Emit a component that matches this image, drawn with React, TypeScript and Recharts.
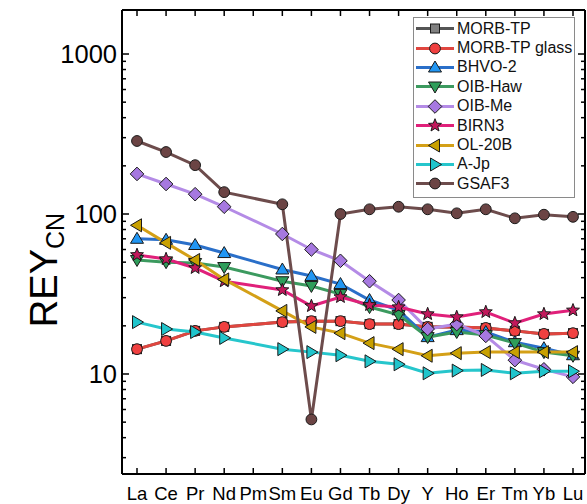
import React from 'react';
import { LineChart, Line, XAxis, YAxis, Legend } from 'recharts';

const elements = ['La', 'Ce', 'Pr', 'Nd', 'Pm', 'Sm', 'Eu', 'Gd', 'Tb', 'Dy', 'Y', 'Ho', 'Er', 'Tm', 'Yb', 'Lu'];

const morbTP = [14.3, 16.1, 18.6, 19.7, null, 21.1, 21.4, 21.4, 20.5, 20.5, 19.7, 19.7, 19.4, 18.6, 17.8, 18.0];
const morbTPGlass = [14.3, 16.1, 18.6, 19.7, null, 21.1, 21.4, 21.4, 20.5, 20.5, 19.7, 19.7, 19.4, 18.6, 17.8, 18.0];
const bhvo2 = [70, 69, 64, 57, null, 45, 41, 36.5, 29, 25, 17, 18.8, 18.3, 15.8, 14.5, 13.1];
const oibHaw = [51.6, 50, 49.4, 46.6, null, 38, 35.5, 31.6, 26.2, 23.4, 17, 18.3, 17.5, 15.6, 13.7, 13.0];
const oibMe = [178, 154, 133, 111, null, 75, 60, 51, 38, 29, 19.1, 20.5, 17.3, 12.2, 10.7, 9.6];
const birn3 = [55.5, 52.3, 46, 38, null, 33.5, 26.6, 30.3, 27, 26.2, 23.7, 22.7, 24.4, 20.8, 23.7, 25];
const ol20b = [85, 66, 51.6, 39, null, 24.8, 19.7, 18, 15.6, 14.3, 13, 13.5, 13.7, 13.7, 13.7, 13.7];
const aJp = [21.1, 19.1, 18.3, 16.8, null, 14.3, 13.7, 13.1, 12, 11.5, 10.1, 10.5, 10.6, 10.1, 10.4, 10.4];
const gsaf3 = [286, 244, 202, 137, null, 115, 5.2, 100, 107, 111, 107, 101, 107, 94, 99, 96];

const yMajorTicks = [10, 100, 1000];
const yTicks = [3, 4, 5, 6, 7, 8, 9, 10, 20, 30, 40, 50, 60, 70, 80, 90, 100, 200, 300, 400, 500, 600, 700, 800, 900, 1000];

type Shape = 'square' | 'circle' | 'up' | 'down' | 'diamond' | 'star' | 'left' | 'right';

const series: { key: string; name: string; values: (number | null)[]; line: string; fill: string; shape: Shape }[] = [
  { key: 'morbTP', name: 'MORB-TP', values: morbTP, line: '#555555', fill: '#808080', shape: 'square' },
  { key: 'morbTPGlass', name: 'MORB-TP glass', values: morbTPGlass, line: '#e0463f', fill: '#f04040', shape: 'circle' },
  { key: 'bhvo2', name: 'BHVO-2', values: bhvo2, line: '#2a6fc9', fill: '#2196f3', shape: 'up' },
  { key: 'oibHaw', name: 'OIB-Haw', values: oibHaw, line: '#3c9a5f', fill: '#2e9e5a', shape: 'down' },
  { key: 'oibMe', name: 'OIB-Me', values: oibMe, line: '#b48be6', fill: '#a678e0', shape: 'diamond' },
  { key: 'birn3', name: 'BIRN3', values: birn3, line: '#e0207a', fill: '#c2185b', shape: 'star' },
  { key: 'ol20b', name: 'OL-20B', values: ol20b, line: '#d4a017', fill: '#c8a000', shape: 'left' },
  { key: 'aJp', name: 'A-Jp', values: aJp, line: '#26c6cc', fill: '#20c5cc', shape: 'right' },
  { key: 'gsaf3', name: 'GSAF3', values: gsaf3, line: '#6d4c4c', fill: '#6b4444', shape: 'circle' },
];

const data = elements.map((el, i) => {
  const row: Record<string, any> = { el };
  series.forEach((s) => {
    row[s.key] = s.values[i];
  });
  return row;
});

const FONT = '"Liberation Sans", Arial, sans-serif';
const STROKE = '#1a1a1a';

function marker(shape: Shape, cx: number, cy: number, fill: string, k?: any) {
  const common = { fill, stroke: STROKE, strokeWidth: 1 };
  switch (shape) {
    case 'square':
      return <rect key={k} x={cx - 4.5} y={cy - 4.5} width={9} height={9} {...common} />;
    case 'circle':
      return <circle key={k} cx={cx} cy={cy} r={5.4} {...common} />;
    case 'up':
      return <polygon key={k} points={`${cx},${cy - 6.5} ${cx + 6.5},${cy + 4.5} ${cx - 6.5},${cy + 4.5}`} {...common} />;
    case 'down':
      return <polygon key={k} points={`${cx},${cy + 6.5} ${cx + 6.5},${cy - 4.5} ${cx - 6.5},${cy - 4.5}`} {...common} />;
    case 'left':
      return <polygon key={k} points={`${cx - 6.5},${cy} ${cx + 4.5},${cy - 6.5} ${cx + 4.5},${cy + 6.5}`} {...common} />;
    case 'right':
      return <polygon key={k} points={`${cx + 6.5},${cy} ${cx - 4.5},${cy - 6.5} ${cx - 4.5},${cy + 6.5}`} {...common} />;
    case 'diamond':
      return <polygon key={k} points={`${cx},${cy - 6.8} ${cx + 6.8},${cy} ${cx},${cy + 6.8} ${cx - 6.8},${cy}`} {...common} />;
    case 'star': {
      const pts: string[] = [];
      for (let i = 0; i < 10; i++) {
        const r = i % 2 === 0 ? 6.8 : 2.9;
        const a = -Math.PI / 2 + (i * Math.PI) / 5;
        pts.push(`${cx + r * Math.cos(a)},${cy + r * Math.sin(a)}`);
      }
      return <polygon key={k} points={pts.join(' ')} {...common} />;
    }
  }
  return null;
}

const LeftTick = (props: any) => {
  const { x, y, payload } = props;
  const major = yMajorTicks.includes(payload.value);
  return (
    <g>
      <line x1={x} x2={x + (major ? 7 : 4)} y1={y} y2={y} stroke="#000" strokeWidth={1.5} />
      {major && (
        <text x={x - 5} y={y} dy="0.36em" textAnchor="end" fontSize={25.5} fontFamily={FONT} fill="#000">
          {payload.value}
        </text>
      )}
    </g>
  );
};

const RightTick = (props: any) => {
  const { x, y, payload } = props;
  const major = yMajorTicks.includes(payload.value);
  return <line x1={x} x2={x - (major ? 7 : 4)} y1={y} y2={y} stroke="#000" strokeWidth={1.5} />;
};

const BottomTick = (props: any) => {
  const { x, y, payload } = props;
  return (
    <g>
      <line x1={x} x2={x} y1={y} y2={y - 6} stroke="#000" strokeWidth={1.5} />
      <text x={x} y={y + 26} textAnchor="middle" fontSize={18.5} fontFamily={FONT} fill="#000">
        {payload.value}
      </text>
    </g>
  );
};

const TopTick = (props: any) => {
  const { x, y } = props;
  return <line x1={x} x2={x} y1={y} y2={y + 6} stroke="#000" strokeWidth={1.5} />;
};

const LegendBox = () => (
  <div
    style={{
      border: '1px solid #8a8a8a',
      background: '#fff',
      width: 162,
      paddingTop: 1,
      paddingBottom: 3,
      boxSizing: 'border-box',
      fontFamily: FONT,
    }}
  >
    {series.map((s) => (
      <div key={s.key} style={{ display: 'flex', alignItems: 'center', height: 19.4 }}>
        <svg width={42} height={19} style={{ display: 'block' }}>
          <line x1={2} x2={40} y1={9.5} y2={9.5} stroke={s.line} strokeWidth={3} />
          {marker(s.shape, 21, 9.5, s.fill)}
        </svg>
        <span style={{ fontSize: 16, marginLeft: 1, color: '#111', whiteSpace: 'nowrap' }}>{s.name}</span>
      </div>
    ))}
  </div>
);

const YLabel = () => (
  <text transform="translate(57,270) rotate(-90)" textAnchor="middle" fontFamily={FONT} fill="#000">
    <tspan fontSize={38}>REY</tspan>
    <tspan fontSize={25} dy={7}>CN</tspan>
  </text>
);

const AXIS_LINE = { stroke: '#000', strokeWidth: 2 };

export default function App() {
  return (
    <div style={{ position: 'absolute', left: 0, top: 0, width: 587, height: 504 }}>
      <LineChart width={587} height={504} data={data} margin={{ top: 0, right: 0, left: 0, bottom: 0 }}>
        <XAxis
          dataKey="el"
          padding={{ left: 15, right: 12 }}
          tick={<BottomTick />}
          tickLine={false}
          tickSize={0}
          tickMargin={0}
          height={30}
          interval={0}
          axisLine={AXIS_LINE}
        />
        <XAxis
          xAxisId="top"
          orientation="top"
          dataKey="el"
          padding={{ left: 15, right: 12 }}
          tick={<TopTick />}
          tickLine={false}
          tickSize={0}
          tickMargin={0}
          height={10}
          interval={0}
          axisLine={AXIS_LINE}
        />
        <YAxis
          scale="log"
          domain={[2.371, 1884]}
          allowDataOverflow
          ticks={yTicks}
          interval={0}
          tick={<LeftTick />}
          tickLine={false}
          tickSize={0}
          tickMargin={0}
          width={122}
          axisLine={AXIS_LINE}
          label={{ content: () => <YLabel /> }}
        />
        <YAxis
          yAxisId="right"
          orientation="right"
          scale="log"
          domain={[2.371, 1884]}
          allowDataOverflow
          ticks={yTicks}
          interval={0}
          tick={<RightTick />}
          tickLine={false}
          tickSize={0}
          tickMargin={0}
          width={2}
          axisLine={AXIS_LINE}
        />
        <Legend
          layout="horizontal"
          verticalAlign="middle"
          align="center"
          content={() => <LegendBox />}
          wrapperStyle={{ position: 'absolute', left: 413, top: 17, width: 162 }}
        />
        {series.map((s) => (
          <Line
            key={s.key}
            dataKey={s.key}
            name={s.name}
            type="linear"
            stroke={s.line}
            strokeWidth={3}
            connectNulls
            isAnimationActive={false}
            dot={(p: any) => {
              if (p.value == null || p.cy == null) return <g key={p.key} />;
              return <g key={p.key}>{marker(s.shape, p.cx, p.cy, s.fill)}</g>;
            }}
            activeDot={false}
          />
        ))}
      </LineChart>
    </div>
  );
}
